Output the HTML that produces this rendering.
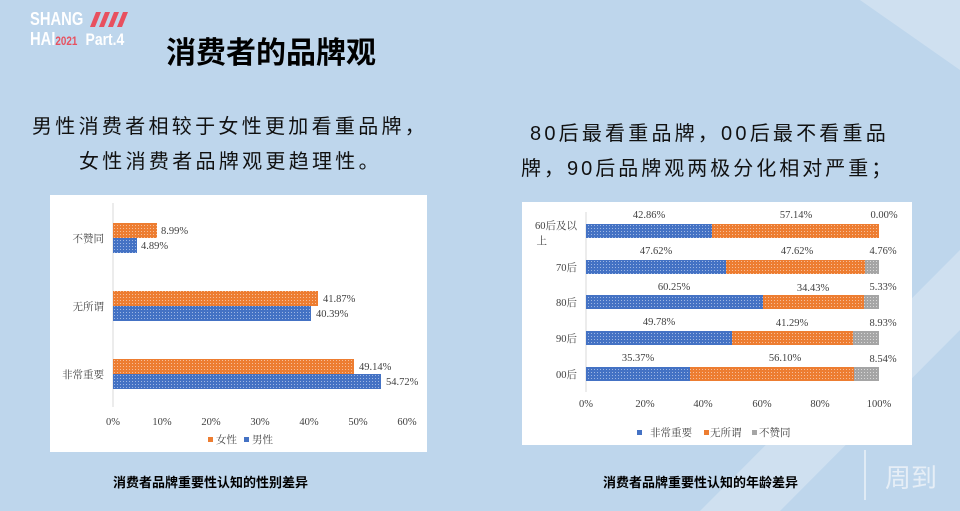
<!DOCTYPE html>
<html><head><meta charset="utf-8"><style>
body{margin:0;width:960px;height:511px;overflow:hidden;background:#bed6ec;position:relative;font-family:"Liberation Sans","Noto Sans CJK SC",sans-serif}
.a{position:absolute;white-space:nowrap}
svg{position:absolute;left:0;top:0}
</style></head><body>
<svg width="960" height="511">
<defs>
<pattern id="pb" width="3" height="3" patternUnits="userSpaceOnUse"><rect width="3" height="3" fill="#4472c4"/><rect width="1" height="1" fill="#9db6e3"/></pattern>
<pattern id="po" width="3" height="3" patternUnits="userSpaceOnUse"><rect width="3" height="3" fill="#ed7d31"/><rect width="1" height="1" fill="#f6bd98"/></pattern>
<pattern id="pg" width="3" height="3" patternUnits="userSpaceOnUse"><rect width="3" height="3" fill="#a5a5a5"/><rect width="1" height="1" fill="#d8d8d8"/></pattern>
</defs>
<polygon points="700,511 960,250 960,330 780,511" fill="#cfe0f0"/>
<polygon points="860,0 960,0 960,70" fill="#cfe0f0"/>
<g fill="#e8505f"><polygon points="96,12 101,12 95,27 90,27"/><polygon points="105,12 110,12 104,27 99,27"/><polygon points="114,12 119,12 113,27 108,27"/><polygon points="123,12 128,12 122,27 117,27"/></g>
<g font-family="Liberation Serif,Noto Serif CJK SC,serif" font-size="10.5" fill="#404040">
<rect x="50" y="195" width="377" height="257" fill="#fff"/>
<line x1="113" y1="203" x2="113" y2="407" stroke="#d9d9d9"/>
<rect x="113" y="223" width="44" height="15" fill="url(#po)"/>
<rect x="113" y="238" width="24" height="15" fill="url(#pb)"/>
<rect x="113" y="291" width="205" height="15" fill="url(#po)"/>
<rect x="113" y="306" width="198" height="15" fill="url(#pb)"/>
<rect x="113" y="359" width="241" height="15" fill="url(#po)"/>
<rect x="113" y="374" width="268" height="15" fill="url(#pb)"/>
<text x="161" y="234">8.99%</text><text x="141" y="249">4.89%</text>
<text x="323" y="302">41.87%</text><text x="316" y="317">40.39%</text>
<text x="359" y="370">49.14%</text><text x="386" y="385">54.72%</text>
<g text-anchor="end"><text x="104" y="242">不赞同</text><text x="104" y="310">无所谓</text><text x="104" y="378">非常重要</text></g>
<g text-anchor="middle"><text x="113" y="425">0%</text><text x="162" y="425">10%</text><text x="211" y="425">20%</text><text x="260" y="425">30%</text><text x="309" y="425">40%</text><text x="358" y="425">50%</text><text x="407" y="425">60%</text></g>
<rect x="208" y="437" width="5" height="5" fill="#ed7d31"/><text x="216" y="443">女性</text>
<rect x="244" y="437" width="5" height="5" fill="#4472c4"/><text x="252" y="443">男性</text>

<rect x="522" y="202" width="390" height="243" fill="#fff"/>
<line x1="586" y1="212" x2="586" y2="392" stroke="#d9d9d9"/>
<rect x="586" y="224" width="126" height="14" fill="url(#pb)"/><rect x="712" y="224" width="167" height="14" fill="url(#po)"/>
<rect x="586" y="260" width="140" height="14" fill="url(#pb)"/><rect x="726" y="260" width="139" height="14" fill="url(#po)"/><rect x="865" y="260" width="14" height="14" fill="url(#pg)"/>
<rect x="586" y="295" width="177" height="14" fill="url(#pb)"/><rect x="763" y="295" width="101" height="14" fill="url(#po)"/><rect x="864" y="295" width="15" height="14" fill="url(#pg)"/>
<rect x="586" y="331" width="146" height="14" fill="url(#pb)"/><rect x="732" y="331" width="121" height="14" fill="url(#po)"/><rect x="853" y="331" width="26" height="14" fill="url(#pg)"/>
<rect x="586" y="367" width="104" height="14" fill="url(#pb)"/><rect x="690" y="367" width="164" height="14" fill="url(#po)"/><rect x="854" y="367" width="25" height="14" fill="url(#pg)"/>
<g text-anchor="middle">
<text x="649" y="218">42.86%</text><text x="796" y="218">57.14%</text><text x="884" y="218">0.00%</text>
<text x="656" y="254">47.62%</text><text x="797" y="254">47.62%</text><text x="883" y="254">4.76%</text>
<text x="674" y="290">60.25%</text><text x="813" y="291">34.43%</text><text x="883" y="290">5.33%</text>
<text x="659" y="325">49.78%</text><text x="792" y="326">41.29%</text><text x="883" y="326">8.93%</text>
<text x="638" y="361">35.37%</text><text x="785" y="361">56.10%</text><text x="883" y="362">8.54%</text>
<text x="586" y="407">0%</text><text x="645" y="407">20%</text><text x="703" y="407">40%</text><text x="762" y="407">60%</text><text x="820" y="407">80%</text><text x="879" y="407">100%</text>
</g>
<g text-anchor="end"><text x="577" y="229">60后及以</text><text x="547" y="244">上</text><text x="577" y="271">70后</text><text x="577" y="306">80后</text><text x="577" y="342">90后</text><text x="577" y="378">00后</text></g>
<rect x="637" y="430" width="5" height="5" fill="#4472c4"/><text x="650" y="436">非常重要</text>
<rect x="704" y="430" width="5" height="5" fill="#ed7d31"/><text x="710" y="436">无所谓</text>
<rect x="752" y="430" width="5" height="5" fill="#a5a5a5"/><text x="759" y="436">不赞同</text>
</g>
<g stroke="#e8f0f8" stroke-width="2" fill="none" opacity="0.8"><line x1="865" y1="450" x2="865" y2="500"/></g>
</svg>
<div class="a" style="left:30px;top:9px;color:#fff;font-weight:bold;font-size:18px;line-height:20px;transform:scaleX(0.82);transform-origin:0 0">SHANG<br>HAI<span style="font-size:12px;color:#e8505f">2021</span> &nbsp;<span style="font-size:17px">Part.4</span></div>
<div class="a" style="left:166px;top:28px;font-size:30px;font-weight:bold;color:#000">消费者的品牌观</div>
<div class="a" style="left:32px;top:110px;font-size:20px;letter-spacing:3.3px;color:#111">男性消费者相较于女性更加看重品牌，</div>
<div class="a" style="left:79px;top:145px;font-size:20px;letter-spacing:3.3px;color:#111">女性消费者品牌观更趋理性。</div>
<div class="a" style="left:530px;top:117px;font-size:20px;letter-spacing:3.2px;color:#111">80后最看重品牌，00后最不看重品</div>
<div class="a" style="left:521px;top:152px;font-size:20px;letter-spacing:3px;color:#111">牌，90后品牌观两极分化相对严重；</div>
<div class="a" style="left:113px;top:472px;font-size:13px;font-weight:bold;color:#000">消费者品牌重要性认知的性别差异</div>
<div class="a" style="left:603px;top:472px;font-size:13px;font-weight:bold;color:#000">消费者品牌重要性认知的年龄差异</div>
<div class="a" style="left:885px;top:458px;font-size:26px;color:#e6eef6">周到</div>
</body></html>
